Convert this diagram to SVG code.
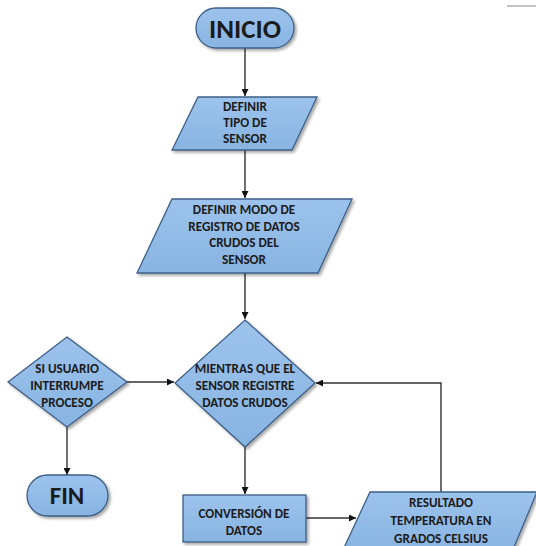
<svg xmlns="http://www.w3.org/2000/svg" width="536" height="546" viewBox="0 0 536 546">
<defs>
<linearGradient id="fillg" x1="0" y1="0" x2="0" y2="1">
<stop offset="0" stop-color="#9cc3ec"/>
<stop offset="1" stop-color="#88b4e2"/>
</linearGradient>
<filter id="sh" x="-10%" y="-10%" width="130%" height="130%">
<feDropShadow dx="2" dy="2" stdDeviation="1.5" flood-color="#000" flood-opacity="0.35"/>
</filter>
<marker id="arr" viewBox="0 0 10 10" refX="10" refY="5" markerWidth="7" markerHeight="7" markerUnits="userSpaceOnUse" orient="auto">
<path d="M0,0 L10,5 L0,10 z" fill="#111"/>
</marker>
</defs>
<style>
.shape{fill:url(#fillg);stroke:#3e5f86;stroke-width:1.3;filter:url(#sh)}
.t{font-family:Carlito,Lato,"Liberation Sans",sans-serif;font-weight:bold;font-size:13.2px;fill:#1c1c1c;text-anchor:middle}
.big{font-size:27px}
.c{fill:none;stroke:#333;stroke-width:1.4}
</style>
<rect width="536" height="546" fill="#fff"/>
<line x1="507" y1="6" x2="536" y2="6" stroke="#9a9a9a" stroke-width="1.2"/>
<g id="connectors">
<line class="c" x1="245" y1="48" x2="245" y2="96" marker-end="url(#arr)"/>
<line class="c" x1="245" y1="150" x2="245" y2="198" marker-end="url(#arr)"/>
<line class="c" x1="245" y1="273" x2="245" y2="319" marker-end="url(#arr)"/>
<line class="c" x1="127" y1="382" x2="174" y2="382" marker-end="url(#arr)"/>
<line class="c" x1="67" y1="427" x2="67" y2="475" marker-end="url(#arr)"/>
<line class="c" x1="245" y1="447" x2="245" y2="494" marker-end="url(#arr)"/>
<line class="c" x1="306" y1="518" x2="356" y2="518" marker-end="url(#arr)"/>
<polyline class="c" points="441,492 441,383 316,383" marker-end="url(#arr)"/>
</g>
<g id="inicio">
<rect class="shape" x="196" y="8" width="98" height="40" rx="20" ry="20"/>
<text class="t big" x="245" y="38">INICIO</text>
</g>
<g id="definir-tipo">
<polygon class="shape" points="198,97 317,97 292,150 172,150"/>
<text class="t" x="245" y="111">DEFINIR</text>
<text class="t" x="245" y="127">TIPO DE</text>
<text class="t" x="245" y="143">SENSOR</text>
</g>
<g id="definir-modo">
<polygon class="shape" points="172,199 352,199 318,273 137,273"/>
<text class="t" x="244" y="214">DEFINIR MODO DE</text>
<text class="t" x="244" y="230.5">REGISTRO DE DATOS</text>
<text class="t" x="244" y="247">CRUDOS DEL</text>
<text class="t" x="244" y="264">SENSOR</text>
</g>
<g id="mientras">
<polygon class="shape" points="245,320 315,383 245,447 175,383"/>
<text class="t" x="245" y="373">MIENTRAS QUE EL</text>
<text class="t" x="245" y="390">SENSOR REGISTRE</text>
<text class="t" x="245" y="407">DATOS CRUDOS</text>
</g>
<g id="si-usuario">
<polygon class="shape" points="67,337 127,382 67,427 8,382"/>
<text class="t" x="67" y="373">SI USUARIO</text>
<text class="t" x="67" y="390">INTERRUMPE</text>
<text class="t" x="67" y="407">PROCESO</text>
</g>
<g id="fin">
<rect class="shape" x="27" y="475" width="81" height="41" rx="20.5" ry="20.5"/>
<text class="t big" x="67" y="504" style="font-size:25px">FIN</text>
</g>
<g id="conversion">
<rect class="shape" x="183" y="495" width="123" height="47"/>
<text class="t" x="244" y="518">CONVERSIÓN DE</text>
<text class="t" x="244" y="534.5">DATOS</text>
</g>
<g id="resultado">
<polygon class="shape" points="370,492 537,492 512,552 342,552"/>
<text class="t" x="441" y="507">RESULTADO</text>
<text class="t" x="441" y="525">TEMPERATURA EN</text>
<text class="t" x="441" y="543">GRADOS CELSIUS</text>
</g>
</svg>
